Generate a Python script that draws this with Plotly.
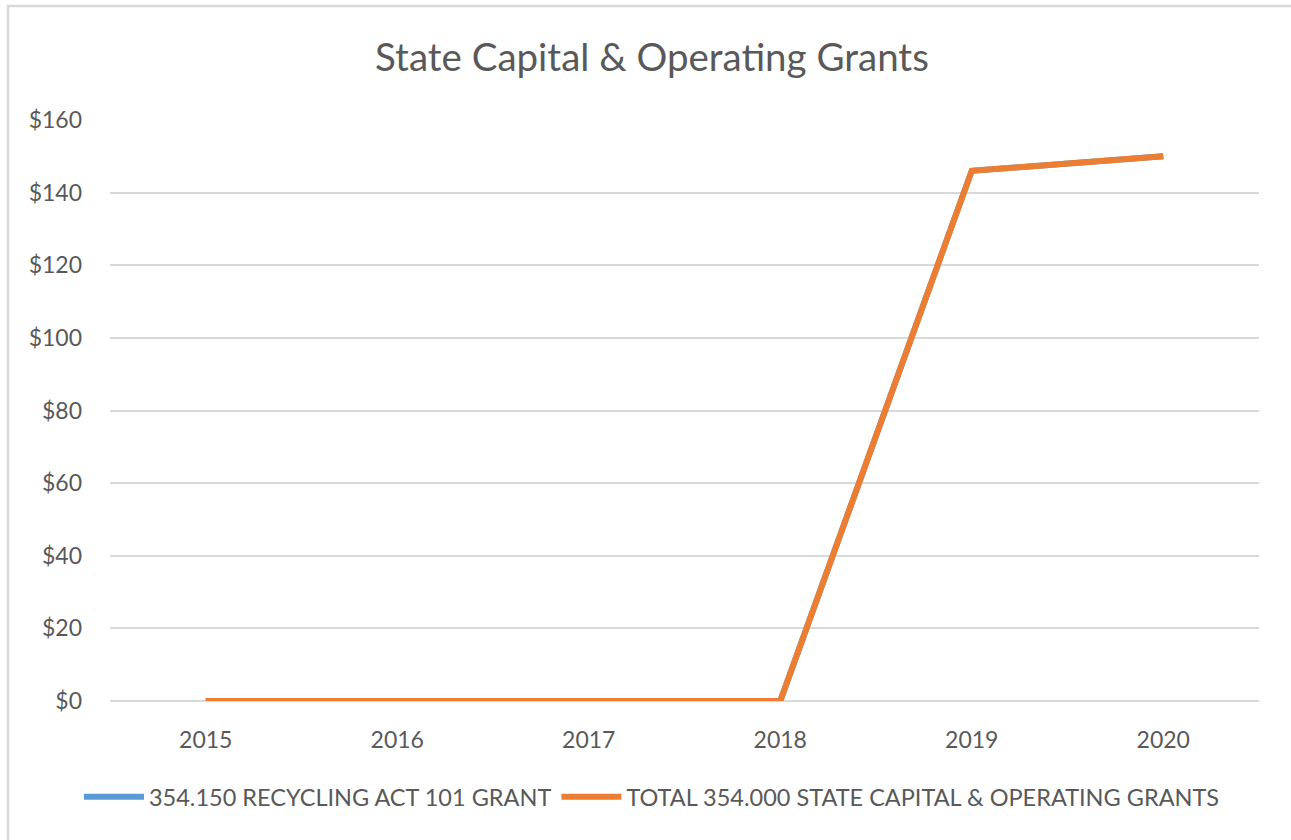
import plotly.graph_objects as go

# Fiscal years on the category axis
years = ["2015", "2016", "2017", "2018", "2019", "2020"]

# Grant amounts per year
recycling_act_101 = [0, 0, 0, 0, 146, 150]
total_state_grants = [0, 0, 0, 0, 146, 150]

# Y-axis ticks
y_ticks = [0, 20, 40, 60, 80, 100, 120, 140, 160]
y_tick_text = ["$" + str(v) for v in y_ticks]

TEXT = "#595959"
GRID = "#d9d9d9"
FONT = "Lato"

fig = go.Figure()
fig.add_trace(go.Scatter(
    x=years, y=recycling_act_101, mode="lines",
    name="354.150 RECYCLING ACT 101 GRANT",
    line=dict(color="#5b9bd5", width=6),
))
fig.add_trace(go.Scatter(
    x=years, y=total_state_grants, mode="lines",
    name="TOTAL 354.000 STATE CAPITAL & OPERATING GRANTS",
    line=dict(color="#ed7d31", width=6),
))

W, H = 1291, 840
ml, mr, mt, mb = 110, 32, 120, 139
pw, ph = W - ml - mr, H - mt - mb

# Light chart-area frame (left and top edges visible)
fx0 = (8 - ml) / pw
fy1 = 1 + (mt - 6) / ph
fig.add_shape(type="rect", xref="paper", yref="paper",
              x0=fx0, x1=1.2, y0=-0.5, y1=fy1,
              line=dict(color=GRID, width=2.5), fillcolor="rgba(0,0,0,0)",
              layer="below")

fig.update_layout(
    width=W, height=H,
    margin=dict(l=ml, r=mr, t=mt, b=mb),
    paper_bgcolor="white", plot_bgcolor="white",
    title=dict(text="State Capital & Operating Grants",
               x=0.505, xref="container", xanchor="center",
               y=1 - 58 / H, yref="container", yanchor="middle",
               font=dict(family=FONT, size=38.5, color=TEXT)),
    font=dict(family=FONT, color=TEXT, size=23),
    showlegend=True,
    legend=dict(orientation="h", xref="container", yref="container",
                x=0.505, xanchor="center", y=1 - 797 / H, yanchor="middle",
                font=dict(family=FONT, size=23.5, color=TEXT),
                itemwidth=60, traceorder="normal"),
    xaxis=dict(type="category", range=[-0.5, 5.5], showgrid=False,
               showline=False, ticks="", zeroline=False,
               tickfont=dict(family=FONT, size=23, color=TEXT),
               ticklabelstandoff=23),
    yaxis=dict(range=[0, 160], tickvals=y_ticks, ticktext=y_tick_text,
               showgrid=True, gridcolor=GRID, gridwidth=1.5,
               zeroline=True, zerolinecolor=GRID, zerolinewidth=1.5,
               showline=False, ticks="",
               tickfont=dict(family=FONT, size=23, color=TEXT),
               ticklabelstandoff=27),
)

fig.write_html("out.html")
